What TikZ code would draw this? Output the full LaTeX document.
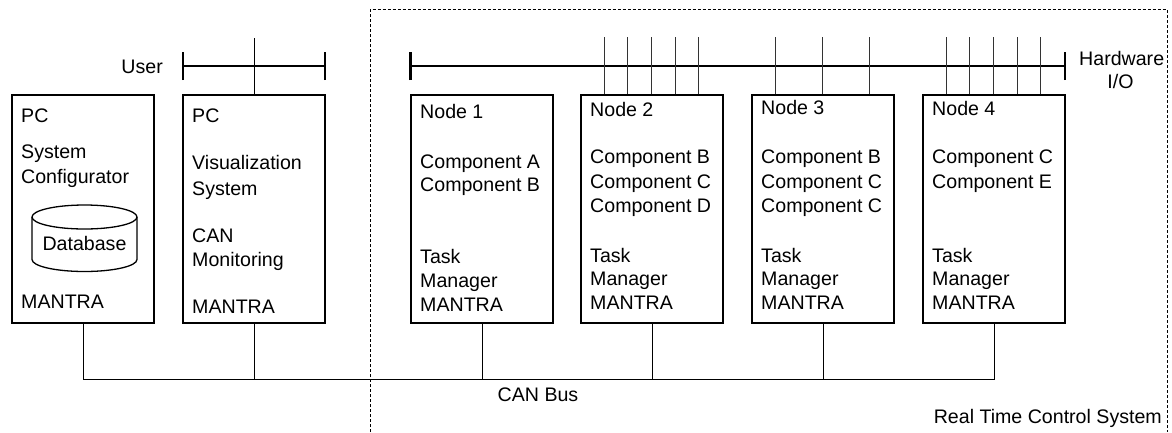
\documentclass[tikz,border=0pt]{standalone}
\usepackage{fontspec}
\setmainfont{Liberation Sans}
\begin{document}
\begin{tikzpicture}[x=1pt,y=-1pt,
  box/.style={draw, line width=1.3pt, minimum width=142pt, minimum height=228pt, inner sep=0pt},
  txt/.style={anchor=west, inner sep=0pt, text height=14pt, text depth=0pt, font=\fontsize{19.6}{23.5}\selectfont},
  rtxt/.style={txt, anchor=east},
  ctxt/.style={txt, anchor=center},
  bus/.style={line width=2.6pt},
  tick/.style={line width=2.6pt},
  wire/.style={line width=1pt},
  pin/.style={line width=0.9pt, black!80},
  frame/.style={line width=0.9pt, dash pattern=on 3pt off 2pt}]
\useasboundingbox (0,0) rectangle (1172,432);

% real time control system frame (open at the bottom)
\draw[frame] (370,432) -- (370,9.5) -- (1167,9.5) -- (1167,432);

% boxes
\node[box] (pc1) at (83,209) {};
\node[box] (pc2) at (254,209) {};
\node[box] (n1) at (482,209) {};
\node[box] (n2) at (652,209) {};
\node[box] (n3) at (823,209) {};
\node[box] (n4) at (994,209) {};

% database cylinder inside the configurator PC
\draw[line width=1.3pt] (32,217) -- (32,259.5) arc[start angle=180, end angle=0, x radius=52.5, y radius=12] -- (137,217);
\draw[line width=1.3pt] (84.5,217) ellipse[x radius=52.5, y radius=12];
\node[ctxt] (db) at (84.5,243) {Database};

% user bus
\coordinate (uL) at (183,66);
\coordinate (uR) at (325,66);
\draw[bus] (uL) -- (uR);
\draw[tick] ([yshift=-14pt]uL) -- ([yshift=14pt]uL);
\draw[tick] ([yshift=-14pt]uR) -- ([yshift=14pt]uR);
\coordinate (utop) at (254,38);
\draw[wire] (utop) -- (pc2.north);
\node[rtxt] (user) at (163,66) {User};

% hardware I/O bus
\coordinate (hL) at (410.7,66);
\coordinate (hR) at (1065,66);
\draw[bus] (hL) -- (hR);
\draw[tick] ([yshift=-14pt]hL) -- ([yshift=14pt]hL);
\draw[tick] ([yshift=-14pt]hR) -- ([yshift=14pt]hR);
\node[txt] (hw) at (1079,58.5) {Hardware};
\node[ctxt] (io) at (1120.5,81) {I/O};

% I/O pins of the nodes
\foreach \i in {1,2,3,4,5} {
  \draw[pin] ([xshift=\i*23.667pt]n2.north west) -- ++(0,-57);
  \draw[pin] ([xshift=\i*23.667pt]n4.north west) -- ++(0,-57);
}
\foreach \i in {1,3,5} {
  \draw[pin] ([xshift=\i*23.667pt]n3.north west) -- ++(0,-57);
}

% CAN bus
\coordinate (can) at (0,379);
\draw[wire] (pc1.south) |- (n4.south |- can) -- (n4.south);
\foreach \b in {pc2,n1,n2,n3} {
  \draw[wire] (\b.south) -- (\b.south |- can);
}
\node[ctxt] (canlabel) at (538,394) {CAN Bus};
\node[rtxt] (rtcs) at (1162,416.5) {Real Time Control System};

% configurator PC
\node[txt] at (21,115) {PC};
\node[txt] at (21,151.7) {System};
\node[txt] at (21,176.7) {Configurator};
\node[txt] at (21,301.7) {MANTRA};

% visualization PC
\node[txt] at (192,115) {PC};
\node[txt] at (192,162.3) {Visualization};
\node[txt] at (192,188.3) {System};
\node[txt] at (192,235) {CAN};
\node[txt] at (192,259.3) {Monitoring};
\node[txt] at (192,306.7) {MANTRA};

% node 1
\node[txt] at (420,111.7) {Node 1};
\node[txt] at (420,161) {Component A};
\node[txt] at (420,184.3) {Component B};
\node[txt] at (420,256) {Task};
\node[txt] at (420,280) {Manager};
\node[txt] at (420,304.3) {MANTRA};

% node 2
\node[txt] at (590,109) {Node 2};
\node[txt] at (590,156.7) {Component B};
\node[txt] at (590,181.7) {Component C};
\node[txt] at (590,205) {Component D};
\node[txt] at (590,255) {Task};
\node[txt] at (590,278.3) {Manager};
\node[txt] at (590,302.3) {MANTRA};

% node 3
\node[txt] at (761,107.3) {Node 3};
\node[txt] at (761,156.7) {Component B};
\node[txt] at (761,181.7) {Component C};
\node[txt] at (761,205) {Component C};
\node[txt] at (761,255) {Task};
\node[txt] at (761,278.3) {Manager};
\node[txt] at (761,302.3) {MANTRA};

% node 4
\node[txt] at (932,108) {Node 4};
\node[txt] at (932,156.7) {Component C};
\node[txt] at (932,181.7) {Component E};
\node[txt] at (932,255) {Task};
\node[txt] at (932,278.3) {Manager};
\node[txt] at (932,302.3) {MANTRA};
\end{tikzpicture}
\end{document}
